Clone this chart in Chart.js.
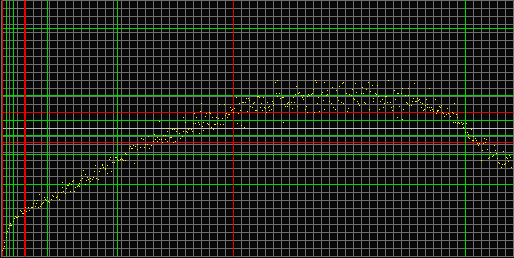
<!DOCTYPE html>
<html>
<head>
<meta charset="utf-8">
<script src="https://cdn.jsdelivr.net/npm/chart.js@4/dist/chart.umd.min.js"></script>
<style>
  html, body { margin: 0; padding: 0; background: #000; }
  #scope { display: block; background: #080808; }
</style>
</head>
<body>
<canvas id="scope" width="514" height="258"></canvas>
<script>
// trace samples (x: 0..512, y: -128..128)
const traceX = [
  1, 2, 3, 3, 5, 5, 6, 7, 8, 9, 10, 9, 12, 13, 14, 15, 16, 17, 19, 20,
  21, 22, 23, 24, 25, 27, 28, 30, 31, 32, 33, 34, 35, 36, 37, 38, 39, 40, 41, 42,
  43, 44, 45, 46, 47, 48, 50, 51, 52, 54, 55, 56, 57, 58, 60, 61, 62, 61, 64, 65,
  66, 67, 68, 69, 70, 71, 72, 73, 74, 76, 77, 78, 78, 79, 81, 80, 82, 84, 84, 85,
  86, 87, 89, 89, 91, 92, 93, 94, 95, 97, 98, 99, 101, 101, 102, 104, 104, 106, 106, 108,
  109, 110, 111, 113, 114, 115, 116, 117, 119, 120, 121, 122, 124, 124, 125, 128, 129, 130, 131, 132,
  133, 134, 136, 136, 137, 139, 140, 142, 143, 144, 146, 147, 148, 150, 152, 153, 154, 156, 156, 158,
  158, 160, 161, 162, 164, 164, 166, 166, 167, 169, 170, 171, 172, 173,
  174, 175, 176, 178, 179, 181, 182, 182, 184, 185, 186, 187, 188, 190, 191, 192, 193, 194, 195, 197,
  198, 198, 199, 200, 201, 202, 202, 204, 205, 206, 207, 208, 209, 210, 211, 212, 213, 214, 215, 216,
  217, 218, 219, 221, 222, 223, 224, 225, 226, 227, 228, 229, 230, 231, 232, 233, 235, 236, 237, 238,
  239, 240, 241, 242, 243, 244, 245, 246, 247, 248, 249, 251, 252, 253, 254, 255, 256, 257, 258, 259,
  260, 261, 262, 263, 264, 265, 266, 267, 268, 268, 270, 271, 272, 272, 274, 275, 276, 276, 278, 279,
  280, 281, 282, 282, 283, 284, 286, 286, 287, 288, 290, 291, 292, 293, 294, 295, 296, 297, 298, 300,
  301, 302, 302, 304, 305, 306, 306, 307, 308, 310, 311, 312, 313, 314, 315, 316, 317, 318, 320, 321,
  322, 323, 323, 325, 326, 326, 328, 330, 331, 332, 334, 335, 336, 337, 338, 340,
  341, 342, 342, 345, 346, 347, 348, 350, 351, 352, 353, 354, 355, 356, 357, 358, 360, 361, 362, 363,
  364, 365, 367, 368, 369, 371, 372, 372, 374, 375, 376, 377, 378, 379, 381, 382, 383, 384, 385, 386,
  387, 389, 390, 391, 392, 393, 394, 396, 396, 397, 398, 400, 401, 401, 402, 404, 405, 406, 407, 407,
  408, 410, 411, 412, 413, 414, 415, 416, 417, 418, 419, 420, 421, 422, 423, 424, 425, 426, 426, 428,
  428, 429, 430, 431, 432, 434, 435, 436, 436, 437, 438, 439, 440, 441, 442, 443, 445, 446, 447, 449,
  451, 452, 452, 453, 454, 455, 456, 456, 457, 458, 460, 461, 462, 462, 463, 464, 465, 466, 467, 467,
  468, 470, 471, 472, 472, 474, 475, 476, 477, 478, 480, 481, 482, 483, 484, 485, 486, 487, 488, 489,
  491, 492, 493, 494, 495, 496, 497, 498, 500, 501, 502, 503, 504, 505, 506, 507, 508, 509, 510
];
const traceY = [
  -122, -120, -118, -114, -109, -105, -103, -100, -97, -97, -97, -95, -93, -90, -88, -89, -89, -88, -82, -83,
  -85, -85, -82, -79, -83, -79, -82, -79, -79, -75, -72, -78, -75, -72, -79, -66, -78, -76, -75, -74,
  -69, -71, -72, -69, -73, -74, -71, -67, -68, -64, -69, -68, -64, -71, -64, -59, -63, -54, -65, -60,
  -57, -57, -55, -63, -56, -53, -52, -63, -59, -58, -57, -58, -55, -52, -50, -47, -42, -46, -56, -52,
  -49, -51, -53, -50, -51, -49, -43, -37, -50, -51, -43, -40, -36, -37, -39, -40, -41, -37, -45, -31,
  -29, -43, -34, -34, -29, -29, -31, -32, -31, -30, -31, -32, -32, -25, -26, -20, -18, -20, -20, -17,
  -35, -18, -21, -16, -26, -19, -10, -11, -19, -16, -16, -8, -20, -17, -13, -6, -11, -9, -13, -11,
  7, -11, -14, -7, -11, -7, -3, -13, 0, -9, -9, -1, -14, -1,
  -13, -3, -1, -5, -10, -8, -3, 11, 6, -3, -4, -1, 0, -1, -3, 5, 15, 5, 11, 6,
  4, -5, 17, 25, 2, 6, -2, 12, 15, 5, 4, 16, 15, 1, 11, -1, 4, 4, 11, 5,
  10, 24, 4, 10, 4, 24, 13, 15, 11, 14, 14, 21, 18, 19, 16, 20, 31, 5, 15, 25,
  18, 3, 26, 26, 1, 26, 30, 17, 30, 28, 22, 21, 25, 26, 18, 18, 32, 32, 31, 21,
  25, 18, 31, 21, 20, 16, 26, 21, 22, 18, 19, 27, 25, 23, 46, 35, 48, 32, 35, 30,
  24, 31, 31, 6, 24, 22, 22, 25, 26, 24, 26, 20, 31, 26, 34, 42, 22, 35, 36, 33,
  31, 33, 29, 19, 22, 16, 32, 34, 33, 34, 35, 39, 16, 48, 46, 25, 31, 17, 34, 36,
  28, 19, 46, 33, 38, 34, 27, 25, 41, 21, 19, 38, 31, 28, 42, 26,
  45, 46, 25, 35, 17, 20, 34, 33, 39, 30, 29, 45, 36, 27, 25, 23, 35, 41, 35, 26,
  25, 39, 46, 19, 37, 43, 30, 27, 35, 34, 43, 32, 19, 27, 29, 21, 25, 32, 32, 26,
  48, 26, 21, 18, 22, 38, 29, 35, 11, 35, 22, 35, 9, 40, 19, 33, 26, 25, 33, 40,
  23, 23, 27, 30, 45, 27, 27, 30, 28, 29, 26, 21, 25, 18, 19, 23, 29, 24, 21, 40,
  21, 18, 21, 19, 17, 29, 15, 18, 17, 18, 22, 21, 23, 16, 15, 12, 14, 20, 15, 12,
  16, 6, 15, 25, 6, 14, 11, 5, 6, 5, 6, 4, 5, 1, 0, -4, 5, -4, -6, -9,
  -10, -1, -12, -8, -12, -10, -12, -15, -17, -15, -32, -22, -15, -10, -14, -11, -21, -30, -29, -24,
  -28, -27, -17, -22, -25, -30, -34, -35, -39, -36, -23, -36, -35, -29, -30, -33, -27, -29, -39
];

// cursor / marker levels
const greenLevelsY = [100, 33, 8, -7, -26, -56];
const redLevelsY = [16, -14];
const greenMarksX = [5, 12, 46, 116, 464];
const redMarksX = [1, 232];
const redWideMarksX = [23.5];

const X_MIN = 0, X_MAX = 512, Y_MIN = -128, Y_MAX = 128;

const points = traceX.map((x, i) => ({ x: x, y: traceY[i] }));

function hLine(v, color, w) {
  return {
    data: [{ x: X_MIN, y: v }, { x: X_MAX, y: v }],
    showLine: true, borderColor: color, borderWidth: w,
    pointRadius: 0, pointHoverRadius: 0, clip: false
  };
}
function vLine(v, color, w) {
  return {
    data: [{ x: v, y: Y_MIN }, { x: v, y: Y_MAX }],
    showLine: true, borderColor: color, borderWidth: w,
    pointRadius: 0, pointHoverRadius: 0, clip: false
  };
}

const GREEN = '#00d800';
const RED = '#e80000';

const datasets = [{
  data: points,
  pointStyle: 'rect',
  pointRadius: 0.7072,
  pointHoverRadius: 0,
  pointBorderWidth: 0,
  backgroundColor: '#ffff00',
  showLine: false
}];
greenMarksX.forEach(v => datasets.push(vLine(v, GREEN, 1)));
redMarksX.forEach(v => datasets.push(vLine(v, RED, 1)));
redWideMarksX.forEach(v => datasets.push(vLine(v, RED, 2)));
greenLevelsY.forEach(v => datasets.push(hLine(v, GREEN, 1)));
redLevelsY.forEach(v => datasets.push(hLine(v, RED, 1)));

const ctx = document.getElementById('scope').getContext('2d');
new Chart(ctx, {
  type: 'scatter',
  data: { datasets: datasets },
  options: {
    responsive: false,
    animation: false,
    events: [],
    layout: { autoPadding: false, padding: { left: 1.5, right: 0.5, top: 0.5, bottom: 1.5 } },
    plugins: { legend: { display: false }, tooltip: { enabled: false } },
    scales: {
      x: {
        type: 'linear', min: X_MIN, max: X_MAX,
        ticks: { display: false, stepSize: 8, autoSkip: false },
        grid: { color: '#6e6e6e', lineWidth: 1, drawTicks: false },
        border: { display: false }
      },
      y: {
        type: 'linear', min: Y_MIN, max: Y_MAX,
        ticks: { display: false, stepSize: 8, autoSkip: false },
        grid: {
          color: c => (c.tick && c.tick.value === 0) ? '#c4c4c4' : '#6e6e6e',
          lineWidth: 1, drawTicks: false
        },
        border: { display: false }
      }
    }
  }
});
</script>
</body>
</html>
